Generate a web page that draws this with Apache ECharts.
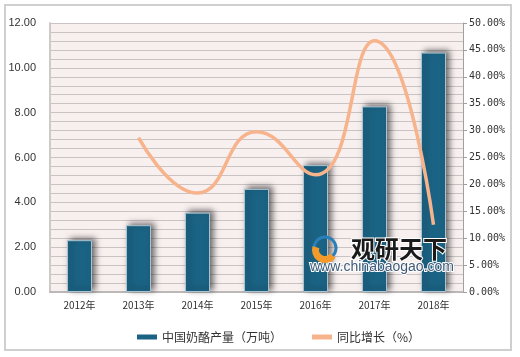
<!DOCTYPE html>
<html><head><meta charset="utf-8">
<script src="https://cdn.jsdelivr.net/npm/echarts@6/dist/echarts.min.js"></script>
<style>html,body{margin:0;padding:0;background:#fff;}#c{width:520px;height:357px;}</style>
</head><body><div id="c"></div>
<script>
const categories = ['2012年','2013年','2014年','2015年','2016年','2017年','2018年'];
const production = [2.31, 2.98, 3.54, 4.60, 5.66, 8.28, 10.68];
const growth = [null, 28.7, 18.4, 29.8, 21.8, 46.7, 12.5];
const leftTicks = {min: 0, max: 12, interval: 2};
const rightTicks = {min: 0, max: 50, interval: 5};

const chart = echarts.init(document.getElementById('c'), null, {renderer: 'canvas'});
chart.setOption({
  animation: false,
  backgroundColor: '#fff',
  grid: {left: 50, right: 57, top: 23, bottom: 65, show: true, backgroundColor: '#f8efef', borderWidth: 0},
  legend: {
    left: 132, top: 326, itemGap: 30, itemWidth: 20, itemHeight: 5,
    textStyle: {fontSize: 12, color: '#333', fontFamily: 'Noto Sans CJK SC'},
    data: [
      {name: '中国奶酪产量（万吨）', icon: 'rect', itemStyle: {color: '#1b6384', borderWidth: 0, shadowBlur: 0, shadowOffsetX: 0, shadowOffsetY: 0, shadowColor: 'transparent'}},
      {name: '同比增长（%）', icon: 'rect', itemStyle: {color: '#f7b48c', borderWidth: 0}}
    ]
  },
  xAxis: {
    type: 'category', data: categories,
    axisLine: {show: true, lineStyle: {color: '#bdb8b8', width: 2}},
    axisTick: {show: false},
    axisLabel: {color: '#333', fontSize: 10, margin: 8, fontFamily: 'Noto Sans CJK SC'}
  },
  yAxis: [
    {
      type: 'value', min: leftTicks.min, max: leftTicks.max, interval: leftTicks.interval,
      axisLine: {show: true, lineStyle: {color: '#cfcaca', width: 2}},
      axisTick: {show: false},
      axisLabel: {color: '#333', fontSize: 11, margin: 14, formatter: v => v.toFixed(2), fontFamily: 'Liberation Sans'},
      splitLine: {show: true, lineStyle: {color: '#c9c3c3', width: 1}},
      minorTick: {show: false, splitNumber: 5},
      minorSplitLine: {show: true, lineStyle: {color: '#c9c3c3', width: 1}}
    },
    {
      type: 'value', min: rightTicks.min, max: rightTicks.max, interval: rightTicks.interval,
      position: 'right',
      axisLine: {show: true, lineStyle: {color: '#a0a0a0', width: 1}},
      axisTick: {show: true, length: 4, lineStyle: {color: '#a0a0a0'}},
      axisLabel: {color: '#333', fontSize: 10, margin: 6, formatter: v => v.toFixed(2) + '%', fontFamily: 'DejaVu Sans Mono'},
      splitLine: {show: false}
    }
  ],
  series: [
    {
      name: '中国奶酪产量（万吨）', type: 'bar', data: production, barWidth: 25, yAxisIndex: 0,
      itemStyle: {color: '#1b6384', borderColor: '#a8c4d2', borderWidth: 1,
        shadowColor: 'rgba(0,0,0,0.55)', shadowBlur: 6, shadowOffsetX: 3, shadowOffsetY: -2}
    },
    {
      name: '同比增长（%）', type: 'line', data: growth, yAxisIndex: 1, smooth: 0.5,
      symbol: 'none', z: 5,
      lineStyle: {color: '#f7b48c', width: 3.5},
      itemStyle: {color: '#f7b48c'}
    }
  ],
  graphic: [
    {type: 'rect', z: 200, shape: {x: 5, y: 5, width: 506, height: 345}, style: {fill: 'none', stroke: '#cfcfcf', lineWidth: 2}},
    {type: 'circle', z: 100, shape: {cx: 325, cy: 248, r: 11}, style: {fill: 'none', stroke: '#2b7fb8', lineWidth: 3}},
    {type: 'sector', z: 101, shape: {cx: 325, cy: 250, r: 13, r0: 6, startAngle: Math.PI*0.2, endAngle: Math.PI*1.1}, style: {fill: '#f39a2a'}},
    {type: 'text', z: 100, left: 350, top: 236, style: {text: '观研天下', font: 'bold 24px "Noto Sans CJK SC"', fill: '#1a1a1a', stroke: '#fff', lineWidth: 2}},
    {type: 'text', z: 100, left: 309, top: 259, style: {text: 'www.chinabaogao.com', font: '14px "Liberation Sans"', fill: '#3d5a78', stroke: '#fff', lineWidth: 2}}
  ]
});
</script></body></html>
